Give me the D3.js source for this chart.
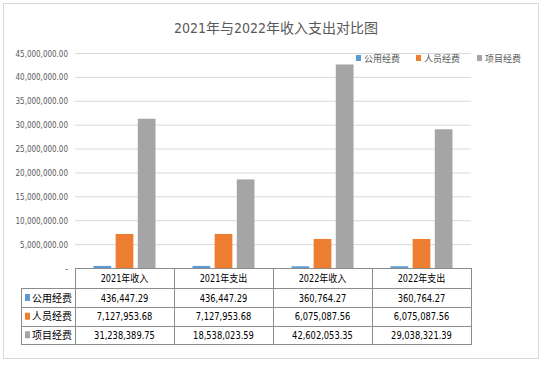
<!DOCTYPE html>
<html><head><meta charset="utf-8">
<script src="https://cdn.jsdelivr.net/npm/d3@7"></script>
<style>
body{margin:0;background:#fff;}
text{font-family:"Liberation Sans Narrow","DejaVu Sans Condensed","Noto Sans CJK SC",sans-serif;}
</style></head>
<body><svg id="c" width="544" height="365"></svg>
<script>
const title = "2021年与2022年收入支出对比图";
const categories = ["2021年收入","2021年支出","2022年收入","2022年支出"];
const seriesNames = ["公用经费","人员经费","项目经费"];
const colors = ["#5b9bd5","#ed7d31","#a5a5a5"];
const publicFunds = [436447.29, 436447.29, 360764.27, 360764.27];
const staffFunds = [7127953.68, 7127953.68, 6075087.56, 6075087.56];
const projectFunds = [31238389.75, 18538023.59, 42602053.35, 29038321.39];
const yTicks = [0,5000000,10000000,15000000,20000000,25000000,30000000,35000000,40000000,45000000];
const series = [publicFunds, staffFunds, projectFunds];

const svg = d3.select("#c");
const L = 75, R = 471, Y0 = 268, YT = 53;
const x = d3.scaleBand().domain(categories).range([L, R]);
const xs = d3.scaleBand().domain(seriesNames).range([0, 62]).paddingInner(0.2);
const y = d3.scaleLinear().domain([0, 45000000]).range([Y0, YT]);

function squeeze(sel, k){
  sel.each(function(){
    const w = this.getComputedTextLength();
    d3.select(this).attr("textLength", w*k).attr("lengthAdjust","spacingAndGlyphs");
  });
}

// outer border
svg.append("rect").attr("x",3.5).attr("y",3.5).attr("width",535).attr("height",355)
  .attr("fill","#fff").attr("stroke","#d9d9d9");

// title
svg.append("text").attr("x",276).attr("y",33).attr("text-anchor","middle")
  .attr("fill","#595959").style("font-size","14px").text(title);

// gridlines and y axis labels
const fmt = d3.format(",.2f");
const yAxis = d3.axisLeft(y).tickValues(yTicks).tickSize(-(R-L)).tickPadding(7)
  .tickFormat(d => d === 0 ? "-" : fmt(d));
const ga = svg.append("g").attr("transform",`translate(${L},0)`).call(yAxis);
ga.select(".domain").remove();
ga.selectAll(".tick line").attr("stroke","#d9d9d9").attr("stroke-width",1)
  .filter(d => d === 0).remove();
ga.selectAll(".tick text").attr("fill","#595959").style("font-size","9.5px")
  .style("font-family","'Liberation Sans Narrow','DejaVu Sans Condensed',sans-serif");
squeeze(ga.selectAll(".tick text").filter(d => d !== 0), 0.84);

// bars
series.forEach((vals, si) => {
  svg.append("g").selectAll("rect").data(categories).join("rect")
    .attr("x", c => x(c) + x.bandwidth()/2 - 31 + xs(seriesNames[si]))
    .attr("width", xs.bandwidth())
    .attr("y", (c,i) => y(vals[i]))
    .attr("height", (c,i) => Y0 - y(vals[i]))
    .attr("fill", colors[si]);
});

// legend
const legX = [356, 416, 477];
seriesNames.forEach((n, i) => {
  svg.append("rect").attr("x",legX[i]).attr("y",55).attr("width",5).attr("height",6).attr("fill",colors[i]);
  svg.append("text").attr("x",legX[i]+8).attr("y",61.5).attr("fill","#595959")
    .style("font-size","9px").text(n);
});

// data table
const rows = [268, 288, 307, 325.5, 344];
const TL = 21;
const lineC = "#8c8c8c";
const gt = svg.append("g").attr("stroke",lineC).attr("stroke-width",1).attr("fill","none");
gt.append("line").attr("x1",L).attr("x2",R).attr("y1",rows[0]+0.5).attr("y2",rows[0]+0.5);
for (let k=1;k<rows.length;k++){
  gt.append("line").attr("x1",TL).attr("x2",R).attr("y1",Math.round(rows[k])+0.5).attr("y2",Math.round(rows[k])+0.5);
}
gt.append("line").attr("x1",TL+0.5).attr("x2",TL+0.5).attr("y1",rows[1]).attr("y2",rows[4]+1);
const colEdges = categories.map(c => x(c)).concat([R]);
colEdges.forEach(cx => gt.append("line").attr("x1",Math.round(cx)+0.5).attr("x2",Math.round(cx)+0.5)
  .attr("y1",rows[0]).attr("y2",rows[4]+1));

// header labels
const hdr = svg.append("g").selectAll("text").data(categories).join("text")
  .attr("x", c => x(c)+x.bandwidth()/2).attr("y",(rows[0]+rows[1])/2+4)
  .attr("text-anchor","middle").attr("fill","#000").style("font-size","10px").text(c => c);
squeeze(hdr, 0.9);
// rows
series.forEach((vals, si) => {
  const cy = (rows[si+1]+rows[si+2])/2;
  svg.append("rect").attr("x",25).attr("y",cy-3.5).attr("width",5).attr("height",7).attr("fill",colors[si]);
  svg.append("text").attr("x",32).attr("y",cy+4).attr("fill","#000").style("font-size","10px").text(seriesNames[si]);
  const vt = svg.append("g").selectAll("text").data(categories).join("text")
    .attr("x", c => x(c)+x.bandwidth()/2).attr("y",cy+4)
    .attr("text-anchor","middle").attr("fill","#000").style("font-size","11px")
    .text((c,i) => fmt(vals[i]));
  squeeze(vt, 0.84);
});
</script></body></html>
